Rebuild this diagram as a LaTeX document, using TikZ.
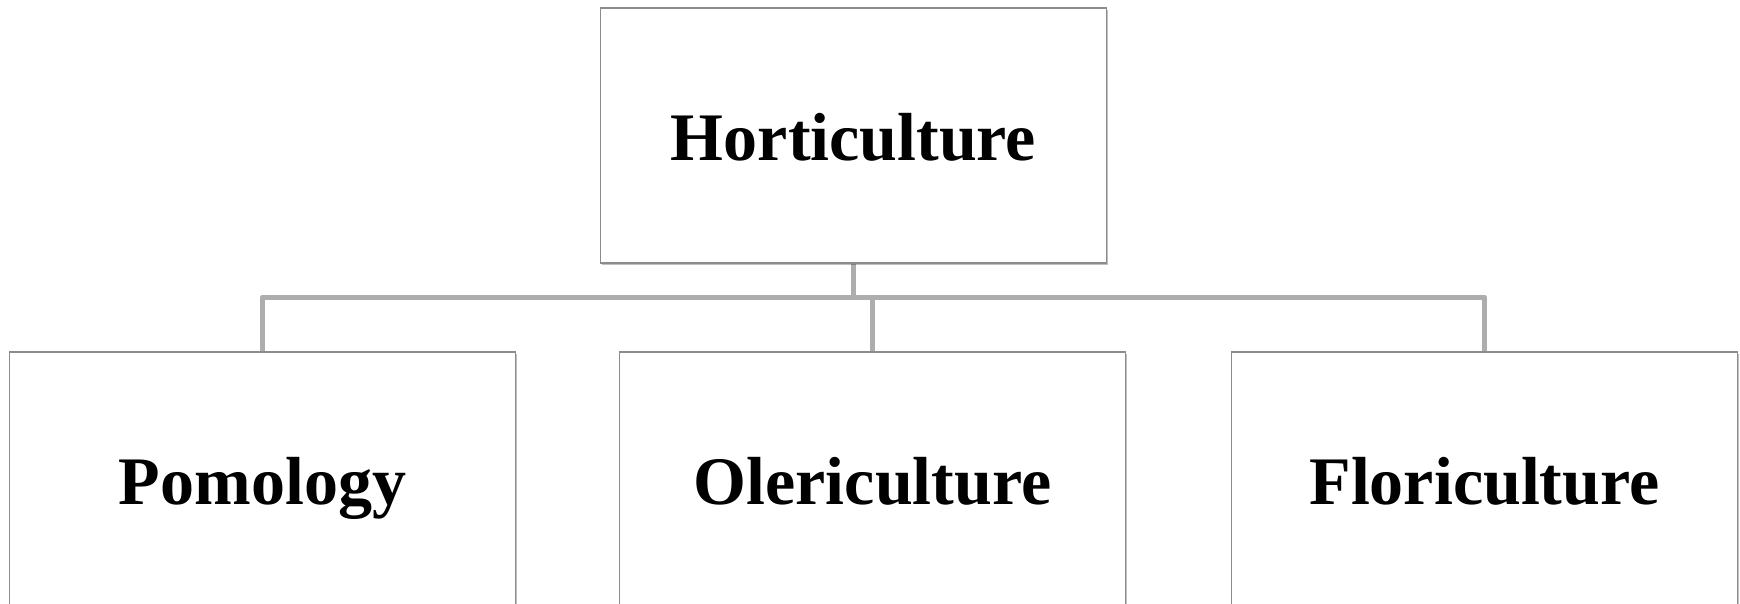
\documentclass[tikz,border=0pt]{standalone}
\usepackage{fontspec}
\setmainfont{Liberation Serif}
\usetikzlibrary{shadows,backgrounds}
\begin{document}
\begin{tikzpicture}[x=1pt,y=-1pt,
  box/.style={draw=black!45, line width=1.2pt, fill=white,
    minimum width=506pt, minimum height=255pt, inner sep=0pt,
    text height=50pt, text depth=0pt,
    font=\fontsize{68}{80}\selectfont\bfseries,
    drop shadow={shadow xshift=1.5pt, shadow yshift=-2pt, opacity=0.25, fill=black}},
  conn/.style={draw=black!32, line width=5pt, line join=round}]
\useasboundingbox (0,0) rectangle (1740,603);
\coordinate (bus) at (853,297);
\node[box] (top) at (853.5,135.5) {Horticulture};
\node[box] (pom) at (262.5,479.5) {Pomology};
\node[box] (ole) at (872.5,479.5) {Olericulture};
\node[box] (flo) at (1484.5,479.5) {Floriculture};
\begin{scope}[on background layer]
\draw[conn] (top.south) -- (top.south |- bus);
\draw[conn] (pom.north) |- (bus) -| (flo.north);
\draw[conn] (ole.north) -- (ole.north |- bus);
\end{scope}
\end{tikzpicture}
\end{document}
